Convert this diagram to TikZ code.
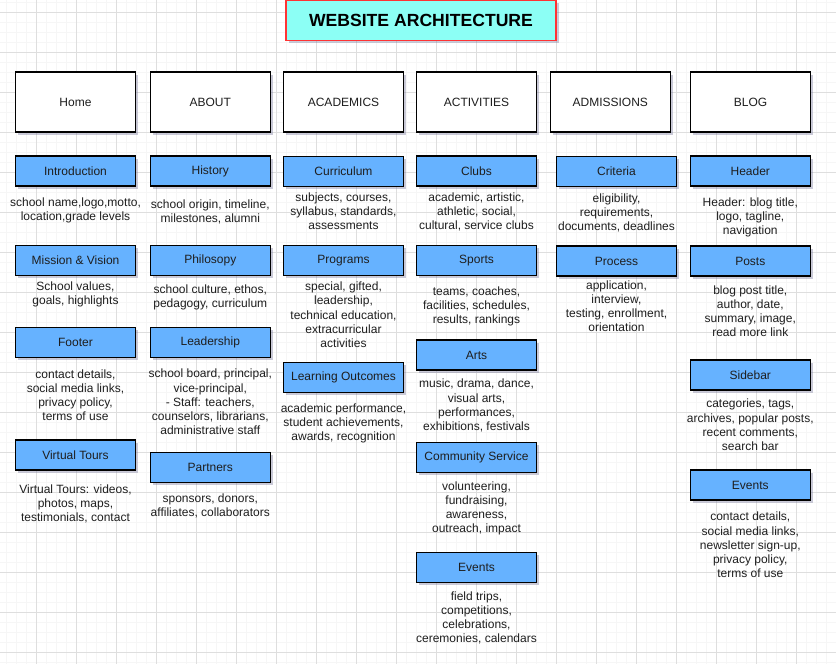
\documentclass[tikz,border=0pt]{standalone}
\usepackage{fontspec}
\setmainfont{Liberation Sans}
\usetikzlibrary{shadows}
\definecolor{boxblue}{HTML}{66B2FF}
\definecolor{titlefill}{HTML}{8CFFF5}
\definecolor{titleedge}{HTML}{FF3333}
\definecolor{gridminor}{HTML}{F6F6F6}
\definecolor{gridmajor}{HTML}{DEDEDE}
\definecolor{txt}{HTML}{1E1E1E}
\definecolor{shadowc}{HTML}{6A6A90}
\tikzset{
  x=1pt, y=-1pt,
  boxshadow/.style={drop shadow={shadow xshift=2.5pt, shadow yshift=-2.5pt, fill=shadowc, opacity=0.35}},
  topbox/.style={draw=black, line width=1.2pt, fill=white, minimum width=120pt, minimum height=60pt,
    inner sep=0pt, outer sep=0pt, text=txt, font=\fontsize{12}{14.2}\selectfont, boxshadow},
  subbox/.style={draw=black, line width=1.2pt, fill=boxblue, minimum width=120pt, minimum height=30pt,
    inner sep=0pt, outer sep=0pt, text=txt, font=\fontsize{12}{14.2}\selectfont, boxshadow},
  desc/.style={align=center, inner sep=0pt, yshift=-1.5pt, text=txt, font=\fontsize{12}{14.2}\selectfont,
    execute at begin node=\strut, execute at end node=\strut},
  titlebox/.style={draw=titleedge, line width=1.2pt, fill=titlefill, minimum width=270pt, minimum height=40pt,
    inner sep=0pt, font=\fontsize{17.6}{20}\selectfont\bfseries, text=black, boxshadow}
}
\begin{document}
\begin{tikzpicture}
\useasboundingbox (0,0) rectangle (836,664);
\fill[white] (0,0) rectangle (836,664);
% grid
\foreach \gx in {6.7,16.7,...,836} {\draw[gridminor, line width=1pt] (\gx,0) -- (\gx,664);}
\foreach \gy in {2.3,12.3,...,664} {\draw[gridminor, line width=1pt] (0,\gy) -- (836,\gy);}
\foreach \gx in {36.7,76.7,...,836} {\draw[gridmajor, line width=1pt] (\gx,0) -- (\gx,664);}
\foreach \gy in {12.3,52.3,...,664} {\draw[gridmajor, line width=1pt] (0,\gy) -- (836,\gy);}

% title
\node[titlebox] (title) at (421,20.3) {WEBSITE ARCHITECTURE};

% top row
\node[topbox] (home) at (75.5,102) {Home};
\node[topbox] (about) at (210.3,102) {ABOUT};
\node[topbox] (academics) at (343.5,102) {ACADEMICS};
\node[topbox] (activities) at (476.5,102) {ACTIVITIES};
\node[topbox] (admissions) at (610.3,102) {ADMISSIONS};
\node[topbox] (blog) at (750.5,102) {BLOG};

% Home column
\node[subbox] (intro) at (75.5,171) {Introduction};
\node[desc] (introd) at (75.5,209.7) {school name,logo,motto,\\location,grade levels};
\node[subbox] (mission) at (75.5,260.5) {Mission \& Vision};
\node[desc] (missiond) at (75.5,293.8) {School values,\\goals, highlights};
\node[subbox] (footer) at (75.5,342.3) {Footer};
\node[desc] (footerd) at (75.5,395.8) {contact details,\\social media links,\\privacy policy,\\terms of use};
\node[subbox] (vtours) at (75.5,455) {Virtual Tours};
\node[desc] (vtoursd) at (75.5,504) {Virtual Tours: videos,\\photos, maps,\\testimonials, contact};

% About column
\node[subbox] (history) at (210.3,171) {History};
\node[desc] (historyd) at (210.3,211.7) {school origin, timeline,\\milestones, alumni};
\node[subbox] (philosophy) at (210.3,260.5) {Philosopy};
\node[desc] (philosophyd) at (210.3,296.5) {school culture, ethos,\\pedagogy, curriculum};
\node[subbox] (leadership) at (210.3,342.3) {Leadership};
\node[desc] (leadershipd) at (210.3,402.5) {school board, principal,\\vice-principal,\\- Staff: teachers,\\counselors, librarians,\\administrative staff};
\node[subbox] (partners) at (210.3,467.3) {Partners};
\node[desc] (partnersd) at (210.3,505.5) {sponsors, donors,\\affiliates, collaborators};

% Academics column
\node[subbox] (curriculum) at (343.5,171.3) {Curriculum};
\node[desc] (curriculumd) at (343.5,211.7) {subjects, courses,\\syllabus, standards,\\assessments};
\node[subbox] (programs) at (343.5,260.5) {Programs};
\node[desc] (programsd) at (343.5,315.3) {special, gifted,\\leadership,\\technical education,\\extracurricular\\activities};
\node[subbox] (outcomes) at (343.5,377.5) {Learning Outcomes};
\node[desc] (outcomesd) at (343.5,423) {academic performance,\\student achievements,\\awards, recognition};

% Activities column
\node[subbox] (clubs) at (476.5,171) {Clubs};
\node[desc] (clubsd) at (476.5,211.7) {academic, artistic,\\athletic, social,\\cultural, service clubs};
\node[subbox] (sports) at (476.5,260.5) {Sports};
\node[desc] (sportsd) at (476.5,305.7) {teams, coaches,\\facilities, schedules,\\results, rankings};
\node[subbox] (arts) at (476.5,355) {Arts};
\node[desc] (artsd) at (476.5,405.5) {music, drama, dance,\\visual arts,\\performances,\\exhibitions, festivals};
\node[subbox] (community) at (476.5,457.5) {Community Service};
\node[desc] (communityd) at (476.5,507.8) {volunteering,\\fundraising,\\awareness,\\outreach, impact};
\node[subbox] (actevents) at (476.5,567.5) {Events};
\node[desc] (acteventsd) at (476.5,617.7) {field trips,\\competitions,\\celebrations,\\ceremonies, calendars};

% Admissions column
\node[subbox] (criteria) at (616.5,171.7) {Criteria};
\node[desc] (criteriad) at (616.5,213) {eligibility,\\requirements,\\documents, deadlines};
\node[subbox] (process) at (616.5,261) {Process};
\node[desc] (processd) at (616.5,306.8) {application,\\interview,\\testing, enrollment,\\orientation};

% Blog column
\node[subbox] (header) at (750.3,171) {Header};
\node[desc] (headerd) at (750.3,217) {Header: blog title,\\logo, tagline,\\navigation};
\node[subbox] (posts) at (750.3,261) {Posts};
\node[desc] (postsd) at (750.3,311.8) {blog post title,\\author, date,\\summary, image,\\read more link};
\node[subbox] (sidebar) at (750.3,375) {Sidebar};
\node[desc] (sidebard) at (750.3,425.5) {categories, tags,\\archives, popular posts,\\recent comments,\\search bar};
\node[subbox] (blogevents) at (750.3,485) {Events};
\node[desc] (blogeventsd) at (750.3,545.5) {contact details,\\social media links,\\newsletter sign-up,\\privacy policy,\\terms of use};
\end{tikzpicture}
\end{document}
